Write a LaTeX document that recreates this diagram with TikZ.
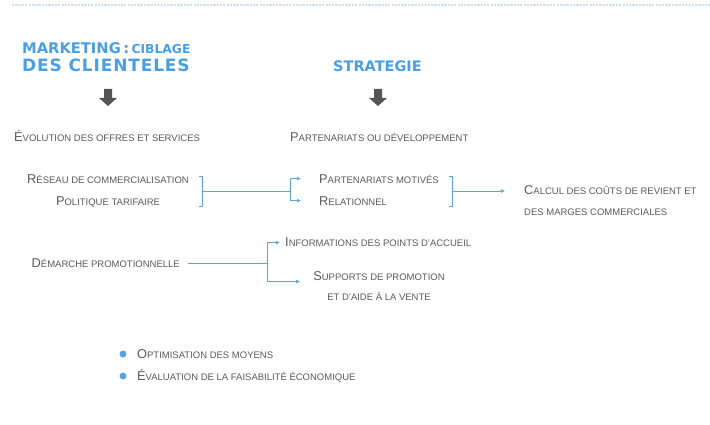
\documentclass[tikz,border=0pt]{standalone}
\usepackage{fontspec}
\setmainfont{Liberation Sans}
\newfontfamily\titlefont{DejaVu Sans}
\usetikzlibrary{arrows.meta}
\usetikzlibrary{positioning}

\definecolor{titleblue}{HTML}{4A9FE0}
\definecolor{linkblue}{HTML}{5BA4DE}
\definecolor{txtgray}{HTML}{5A5A5A}
\definecolor{dotblue}{HTML}{CBE1F3}
\definecolor{arrowgray}{HTML}{555555}

% fake small capitals: first letters big, the rest small
\newcommand{\scx}[2]{{\fontsize{12.8}{14}\selectfont #1}{\fontsize{9.5}{11}\selectfont\MakeUppercase{#2}}}

\tikzset{
	txt/.style={text=txtgray, inner sep=0pt},
	ttl/.style={text=titleblue, inner sep=0pt, font=\titlefont\bfseries},
	link/.style={draw=linkblue, line width=0.6pt},
	tip/.style={-{Latex[length=4pt,width=4pt]}},
	bullet/.style={circle, fill=linkblue, inner sep=0pt, minimum size=7pt}
}

\begin{document}
\begin{tikzpicture}[x=1pt,y=-1pt]
		\useasboundingbox (0,0) rectangle (710,425);
		\draw[dotblue, line width=1.8pt, dash pattern=on 2.2pt off 1.1pt] (12,5)--(710,5);
		% titles
		\node[ttl, anchor=base west] (mkt) at (22,54) {{\fontsize{14.7}{16}\selectfont MARKETING\,:\,}{\fontsize{12.3}{14}\selectfont CIBLAGE}};
		\node[ttl, anchor=base west] (cli) at (22,72) {\fontsize{17}{19}\selectfont\addfontfeature{LetterSpace=5}DES CLIENTELES};
		\node[ttl, anchor=base west] (strat) at (333,72) {\fontsize{14.5}{16}\selectfont STRATEGIE};
		\fill[arrowgray, shift={(108,89)}] (-4,0)--(4,0)--(4,9)--(9,9)--(0,17)--(-9,9)--(-4,9)--cycle;
		\fill[arrowgray, shift={(378,89)}] (-4,0)--(4,0)--(4,9)--(9,9)--(0,17)--(-9,9)--(-4,9)--cycle;
		% first rows
		\node[txt, anchor=base west] (evo) at (14,142) {\scx{É}{volution des offres et services}};
		\node[txt, anchor=base west] (part) at (290,142) {\scx{P}{artenariats ou développement}};
		\node[txt, anchor=base] (res) at (108,183) {\scx{R}{éseau de commercialisation}};
		\node[txt, anchor=base] (tar) at (108,205) {\scx{P}{olitique tarifaire}};
		\node[txt, anchor=base west] (mot) at (319,183) {\scx{P}{artenariats motivés}};
		\node[txt, anchor=base west] (rel) at (319,205) {\scx{R}{elationnel}};
		\node[txt, anchor=base west] (calc) at (524,194) {\scx{C}{alcul des coûts de revient et}};
		\node[txt, anchor=base west] (calcb) at (524,215) {\scx{}{des marges commerciales}};
		% brackets and links
		\draw[link] (199,176)--(202,176)--(202,206)--(199,206);
		\draw[link] (449,176)--(452,176)--(452,206)--(449,206);
		\coordinate (br1) at (202,191);
		\coordinate (br2) at (452,191);
		\coordinate (j1) at (290,191);
		\draw[link] (br1)--(j1);
		\draw[link,tip] (j1) |- ([xshift=-18pt]mot.west);
		\draw[link,tip] (j1) |- ([xshift=-18pt]rel.west);
		\draw[link,tip] (br2) -- ([xshift=-19pt]calc.west |- br2);
		% promotion
		\node[txt, anchor=base east] (dem) at (180,267) {\scx{D}{émarche promotionnelle}};
		\node[txt, anchor=base west] (info) at (285,247) {\scx{I}{nformations des points d'accueil}};
		\node[txt, anchor=base] (supp) at (379,280) {\scx{S}{upports de promotion}};
		\node[txt, anchor=base] (suppb) at (379,300) {\scx{}{et d'aide à la vente}};
		\coordinate (j2) at (267,263);
		\draw[link] ([xshift=8pt]j2 -| dem.east)--(j2);
		\draw[link,tip] (j2) |- ([xshift=-5pt]info.west);
		\draw[link,tip] (j2) |- ([xshift=-13pt,yshift=-6pt]supp.west);
		% bullets
		\node[bullet] (d1) at (123,354) {};
		\node[bullet] (d2) at (123,376) {};
		\node[txt, anchor=base west] (opt) at (137,358) {\scx{O}{ptimisation des moyens}};
		\node[txt, anchor=base west] (eva) at (137,380) {\scx{É}{valuation de la faisabilité économique}};
	\end{tikzpicture}
\end{document}
